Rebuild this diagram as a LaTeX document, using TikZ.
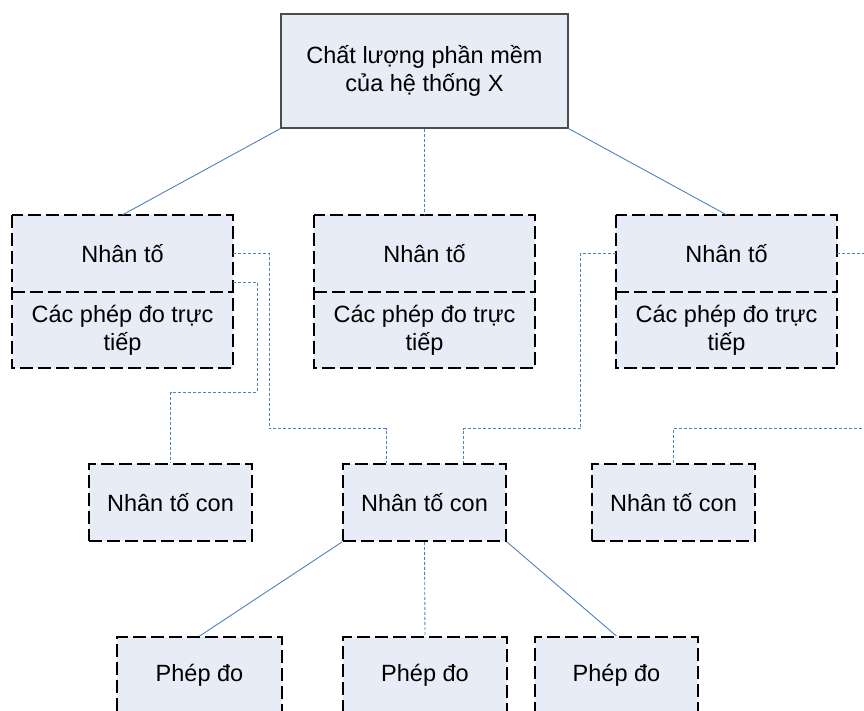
\documentclass[tikz,border=0pt]{standalone}
\usepackage{fontspec}
\setmainfont{Liberation Sans}
\begin{document}
\definecolor{boxfill}{RGB}{231,236,247}
\definecolor{linkblue}{RGB}{79,129,189}
\begin{tikzpicture}[x=1pt,y=-1pt,
  every node/.style={font=\fontsize{23.5}{28}\selectfont, align=center, inner sep=0pt},
  topbox/.style={draw=black!70, line width=1.2pt, fill=boxfill, minimum width=287pt, minimum height=114pt},
  part/.style={fill=boxfill, minimum width=221pt},
  leafbox/.style={fill=boxfill, draw=black, line width=1.8pt, dash pattern=on 13pt off 5pt, minimum width=164pt, minimum height=77pt},
  boxline/.style={draw=black, line width=1.8pt, dash pattern=on 13pt off 5pt},
  link/.style={draw=linkblue, line width=0.9pt},
  dlink/.style={draw=linkblue, line width=0.9pt, dash pattern=on 3pt off 2pt}]
\useasboundingbox (0,0) rectangle (864,711);
\clip (0,0) rectangle (864,711);

% root
\node[topbox] (top) at (424.5,71) {Chất lượng phần mềm\\của hệ thống X};

% factors: name part above, direct measures below
\foreach \i/\x in {1/122.5, 2/424.5, 3/726.5} {
  \node[part, minimum height=77pt] (f\i n) at (\x,253.5) {Nhân tố};
  \node[part, minimum height=76pt] (f\i m) at (\x,330) {Các phép đo trực\\tiếp};
  \draw[boxline] (f\i n.north west) rectangle (f\i m.south east);
  \draw[boxline] (f\i n.south west) -- (f\i n.south east);
}

% sub-factors
\node[leafbox, minimum width=163pt] (s1) at (170.5,502.5) {Nhân tố con};
\node[leafbox, minimum width=163pt] (s2) at (424.5,502.5) {Nhân tố con};
\node[leafbox, minimum width=163pt] (s3) at (673.5,502.5) {Nhân tố con};

% measures
\node[leafbox, minimum width=165pt] (p1) at (199.5,675.5) {Phép đo};
\node[leafbox, minimum width=164pt] (p2) at (425,675.5) {Phép đo};
\node[leafbox, minimum width=163pt] (p3) at (616.5,675.5) {Phép đo};

% loose ends leaving the right side
\coordinate (edgeA) at (870,253.5);
\coordinate (edgeB) at (870,428.5);

% root to factors
\draw[link] (top.south west) -- (f1n.north);
\draw[dlink] (top.south) -- (f2n.north);
\draw[link] (top.south east) -- (f3n.north);

% factors to sub-factors
\draw[dlink] (f1n.east) -- ++(36,0) -- ++(0,175) -| ([xshift=-38.5pt]s2.north);
\draw[dlink] ([yshift=10pt]f1n.south east) -- ++(24,0) -- ++(0,110) -| (s1.north);
\draw[dlink] (f3n.west) -- ++(-35,0) -- ++(0,175) -| ([xshift=38.5pt]s2.north);
\draw[dlink] (f3n.east) -- (edgeA);
\draw[dlink] (s3.north) |- (edgeB);

% sub-factor to measures
\draw[link] (s2.south west) -- (p1.north);
\draw[dlink] (s2.south) -- (p2.north);
\draw[link] (s2.south east) -- (p3.north);
\end{tikzpicture}
\end{document}
